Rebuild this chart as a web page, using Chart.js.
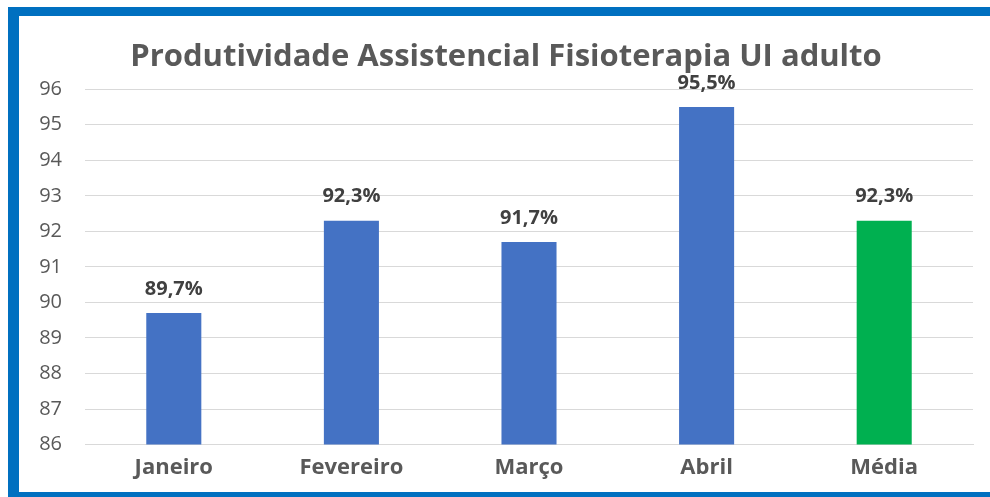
<!DOCTYPE html>
<html>
<head>
<meta charset="utf-8">
<script src="https://cdn.jsdelivr.net/npm/chart.js@4"></script>
<style>
  html, body { margin: 0; padding: 0; background: #fff; overflow: hidden; }
  #frame {
    position: absolute; left: 8px; top: 7px;
    width: 990px; height: 490px;
    border-left: 11px solid #0070C0;
    border-top: 9px solid #0070C0;
    border-bottom: 5px solid #0070C0;
    box-sizing: border-box;
  }
  #wrap { position: absolute; left: 19px; top: 16px; width: 971px; height: 475px; }
</style>
</head>
<body>
<div id="frame"></div>
<div id="wrap"><canvas id="myChart"></canvas></div>
<script>
const categories = ['Janeiro', 'Fevereiro', 'Março', 'Abril', 'Média'];
const values = [89.7, 92.3, 91.7, 95.5, 92.3];
const barColors = ['#4472C4', '#4472C4', '#4472C4', '#4472C4', '#00B050'];
const yMin = 86;
const yMax = 96;

const fontFamily = '"Open Sans", "Noto Sans", sans-serif';

// draw value labels above each bar
const valueLabels = {
  id: 'valueLabels',
  afterDatasetsDraw(chart) {
    const ctx = chart.ctx;
    const meta = chart.getDatasetMeta(0);
    ctx.save();
    ctx.font = 'bold 20px ' + fontFamily;
    ctx.fillStyle = '#404040';
    ctx.textAlign = 'center';
    ctx.textBaseline = 'middle';
    meta.data.forEach((bar, i) => {
      const txt = values[i].toFixed(1).replace('.', ',') + '%';
      ctx.fillText(txt, bar.x, bar.y - 24);
    });
    ctx.restore();
  }
};

const config = {
  type: 'bar',
  data: {
    labels: categories,
    datasets: [{
      data: values,
      backgroundColor: barColors,
      barPercentage: 0.31,
      categoryPercentage: 1
    }]
  },
  options: {
    responsive: true,
    maintainAspectRatio: false,
    animation: false,
    layout: { padding: { left: 20, right: 17, top: 0, bottom: 0 } },
    plugins: {
      legend: { display: false },
      tooltip: { enabled: false },
      title: {
        display: true,
        text: 'Produtividade Assistencial Fisioterapia UI adulto',
        color: '#595959',
        font: { family: fontFamily, size: 31, weight: 'bold', lineHeight: 1.2 },
        padding: { top: 23, bottom: 13 }
      }
    },
    scales: {
      x: {
        grid: { display: false, drawTicks: false },
        border: { color: '#d9d9d9' },
        ticks: {
          color: '#595959',
          padding: 10,
          font: { family: fontFamily, size: 22, weight: 'bold' }
        },
        // the x labels should not push the plot area inwards
        afterFit: (scale) => {
          scale.paddingLeft = 0;
          scale.paddingRight = 0;
        }
      },
      y: {
        min: yMin,
        max: yMax,
        grid: { color: '#d9d9d9', drawTicks: false },
        border: { display: false },
        ticks: {
          stepSize: 1,
          color: '#595959',
          padding: 23,
          font: { family: fontFamily, size: 20 }
        },
        afterFit: (scale) => {
          scale.width = 46;
        }
      }
    }
  },
  plugins: [valueLabels]
};

new Chart(document.getElementById('myChart'), config);
</script>
</body>
</html>
